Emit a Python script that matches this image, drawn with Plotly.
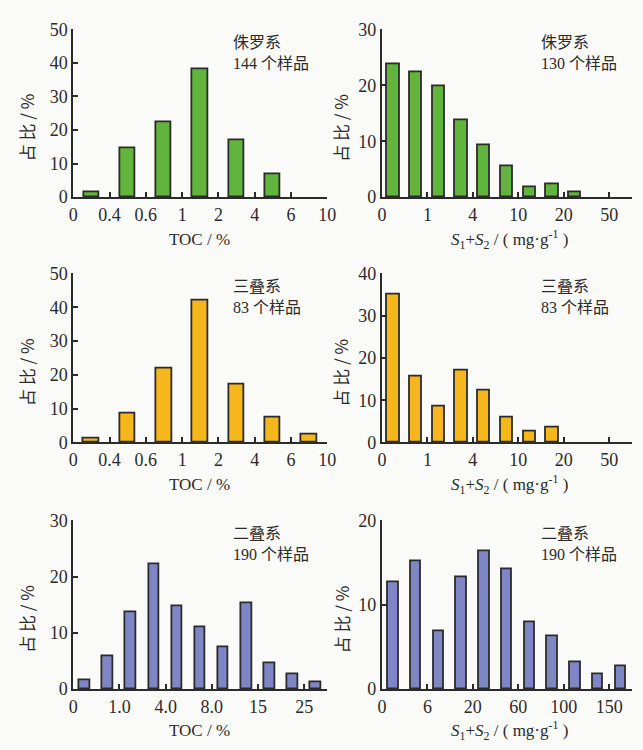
import numpy as np
import plotly.graph_objects as go

# Share of samples (%) per class, read per stratum
toc_jurassic = [1.5, 14.6, 22.3, 38.2, 16.9, 6.9]
s12_jurassic = [23.8, 22.3, 19.9, 13.8, 9.3, 5.5, 1.7, 2.3, 0.8]
toc_triassic = [1.2, 8.6, 21.9, 42.0, 17.1, 7.3, 2.5]
s12_triassic = [35.0, 15.7, 8.4, 17.1, 12.3, 6.0, 2.5, 3.5]
toc_permian = [1.6, 5.8, 13.7, 22.1, 14.7, 11.0, 7.5, 15.3, 4.5, 2.7, 1.2]
s12_permian = [12.7, 15.2, 6.9, 13.2, 16.3, 14.2, 7.9, 6.3, 3.2, 1.7, 2.7]

# Class boundary labels
toc_ticks_jt = ["0", "0.4", "0.6", "1", "2", "4", "6", "10"]
s12_ticks_jt = ["0", "1", "4", "10", "20", "50"]
toc_ticks_p = ["0", "1.0", "4.0", "8.0", "15", "25"]
s12_ticks_p = ["0", "6", "20", "60", "100", "150"]

strata = ["侏罗系", "三叠系", "二叠系"]
toc_counts = [144, 83, 190]
s12_counts = [130, 83, 190]

GREEN, YELLOW, BLUE = "#62b53c", "#f6b71c", "#7f86c6"
INK = "#2b2b2b"
BG = "#fafaf8"
W, H = 643, 750
SERIF = "Liberation Serif"
MIXED = "Liberation Serif, Noto Sans CJK SC"
CJK = "Noto Sans CJK SC"

# panel geometry in pixels: (x_left, x_right) and (y_zero, y_top)
left_x = (70.7, 330.0)
right_x = (385.7, 641.0)
rows_y = [(192.3, 19.8), (444.3, 270.7), (697.7, 524.3)]

panels = [
    # values, colour, column, row, x-range, tick step, tick labels, y max, bar width, x title
    (toc_jurassic, GREEN, 0, 0, 7, 1, toc_ticks_jt, 50, 0.42, "toc"),
    (s12_jurassic, GREEN, 1, 0, 11, 2, s12_ticks_jt, 30, 0.54, "s12"),
    (toc_triassic, YELLOW, 0, 1, 7, 1, toc_ticks_jt, 50, 0.43, "toc"),
    (s12_triassic, YELLOW, 1, 1, 11, 2, s12_ticks_jt, 40, 0.54, "s12"),
    (toc_permian, BLUE, 0, 2, 11, 2, toc_ticks_p, 30, 0.46, "toc"),
    (s12_permian, BLUE, 1, 2, 11, 2, s12_ticks_p, 20, 0.46, "s12"),
]

fig = go.Figure()
annotations = []

for k, (vals, color, col, row, xmax, step, ticks, ymax, bw, xt) in enumerate(panels):
    n = k + 1
    xa = "xaxis" if n == 1 else f"xaxis{n}"
    ya = "yaxis" if n == 1 else f"yaxis{n}"
    xr = "x" if n == 1 else f"x{n}"
    yr = "y" if n == 1 else f"y{n}"
    xpx = left_x if col == 0 else right_x
    y0, y1 = rows_y[row]

    fig.add_trace(go.Bar(
        x=np.arange(len(vals)) + 0.5, y=vals, width=bw,
        marker=dict(color=color, line=dict(color=INK, width=1.8)),
        xaxis=xr, yaxis=yr, showlegend=False, hoverinfo="y",
    ))

    fig.layout[xa] = dict(
        domain=[xpx[0] / W, xpx[1] / W], range=[0, xmax], anchor=yr,
        showline=True, linecolor=INK, linewidth=2, showgrid=False, zeroline=False,
        ticks="inside", ticklen=5, tickwidth=1.5, tickcolor=INK,
        tickmode="array", tickvals=[i * step for i in range(len(ticks))], ticktext=ticks,
        tickfont=dict(family=SERIF, size=18, color=INK), fixedrange=True,
    )
    fig.layout[ya] = dict(
        domain=[1 - y0 / H, 1 - y1 / H], range=[0, ymax], anchor=xr,
        showline=True, linecolor=INK, linewidth=2, showgrid=False, zeroline=False,
        ticks="inside", ticklen=5, tickwidth=1.5, tickcolor=INK,
        tickmode="linear", tick0=0, dtick=10,
        tickfont=dict(family=SERIF, size=18, color=INK), fixedrange=True,
    )

    # y title
    annotations.append(dict(
        text="占 比 / %", textangle=-90, xref="paper", yref="paper",
        x=(23 if col == 0 else 344) / W, y=1 - ((y0 + y1) / 2 + 15) / H,
        showarrow=False, font=dict(family=CJK, size=17, color=INK),
        xanchor="center", yanchor="middle",
    ))
    # x title
    if xt == "toc":
        xtitle = "TOC / %"
        xc = 200
    else:
        xtitle = "<i>S</i><sub>1</sub>+<i>S</i><sub>2</sub> / ( mg·g<sup>-1</sup> )"
        xc = 516
    annotations.append(dict(
        text=xtitle, xref="paper", yref="paper", x=xc / W, y=1 - (y0 + 43) / H,
        showarrow=False, font=dict(family=MIXED, size=17, color=INK),
        xanchor="center", yanchor="middle",
    ))
    # stratum label and sample count
    count = toc_counts[row] if col == 0 else s12_counts[row]
    tx = 232 if col == 0 else 546
    annotations.append(dict(
        text=f"{strata[row]}<br>{count} 个样品", xref="paper", yref="paper",
        x=tx / W, y=1 - (y1 + 3) / H, showarrow=False, align="left",
        font=dict(family=MIXED, size=16, color=INK),
        xanchor="left", yanchor="top",
    ))

fig.update_layout(
    width=W, height=H, margin=dict(l=0, r=0, t=0, b=0),
    paper_bgcolor=BG, plot_bgcolor=BG, bargap=0,
    annotations=annotations,
)

fig.write_html("out.html", config={"displayModeBar": False})
